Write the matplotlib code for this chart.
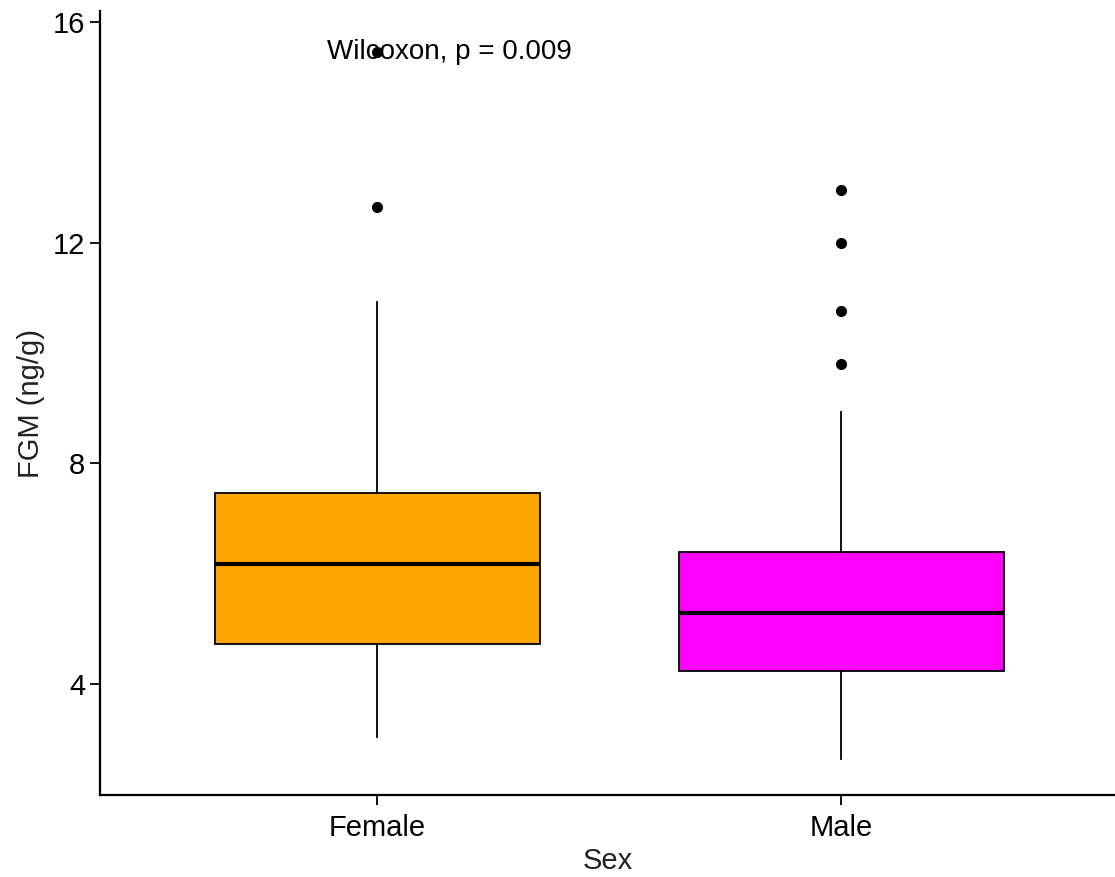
import matplotlib.pyplot as plt

plt.rcParams["font.family"] = ["Liberation Sans", "DejaVu Sans"]

groups = ["Female", "Male"]
colors = ["#FFA500", "#FF00FF"]

# box statistics (ng/g)
q1 = [4.73, 4.24]
med = [6.18, 5.29]
q3 = [7.46, 6.40]
whislo = [3.04, 2.64]
whishi = [10.93, 8.94]
outliers = [[12.65, 15.46], [9.80, 10.77, 12.0, 12.96]]

p_label = "Wilcoxon, p = 0.009"

stats = []
for i, g in enumerate(groups):
    stats.append({"label": g, "q1": q1[i], "med": med[i], "q3": q3[i],
                  "whislo": whislo[i], "whishi": whishi[i], "fliers": outliers[i]})

fig = plt.figure(figsize=(11.15, 8.77), dpi=100)
ax = fig.add_axes([100 / 1115, 82 / 877, 1015 / 1115, 784 / 877])

bp = ax.bxp(stats, positions=[1, 2], widths=0.7, patch_artist=True, showcaps=False,
            boxprops=dict(edgecolor="black", linewidth=1.3),
            whiskerprops=dict(color="black", linewidth=1.3),
            medianprops=dict(color="black", linewidth=3),
            flierprops=dict(marker="o", markerfacecolor="black", markeredgecolor="black",
                            markersize=7))
for patch, c in zip(bp["boxes"], colors):
    patch.set_facecolor(c)
for f in bp["fliers"]:
    f.set_zorder(5)

ax.text(0.892, 15.46, p_label, fontsize=20, va="center", ha="left", zorder=1)

ax.set_xlim(0.403, 2.59)
ax.set_ylim(1.99, 16.2)
ax.set_yticks([4, 8, 12, 16])
ax.set_xticks([1, 2])
ax.set_xticklabels(groups)
ax.tick_params(labelsize=21, length=7, width=1.3, colors="black")
ax.tick_params(axis="x", pad=7)
ax.set_xlabel("Sex", fontsize=21, color="#222222", labelpad=3)
ax.set_ylabel("FGM (ng/g)", fontsize=21, color="#222222", labelpad=6)

for s in ["top", "right"]:
    ax.spines[s].set_visible(False)
for s in ["left", "bottom"]:
    ax.spines[s].set_linewidth(1.6)

fig.savefig("out.png", dpi=100)
